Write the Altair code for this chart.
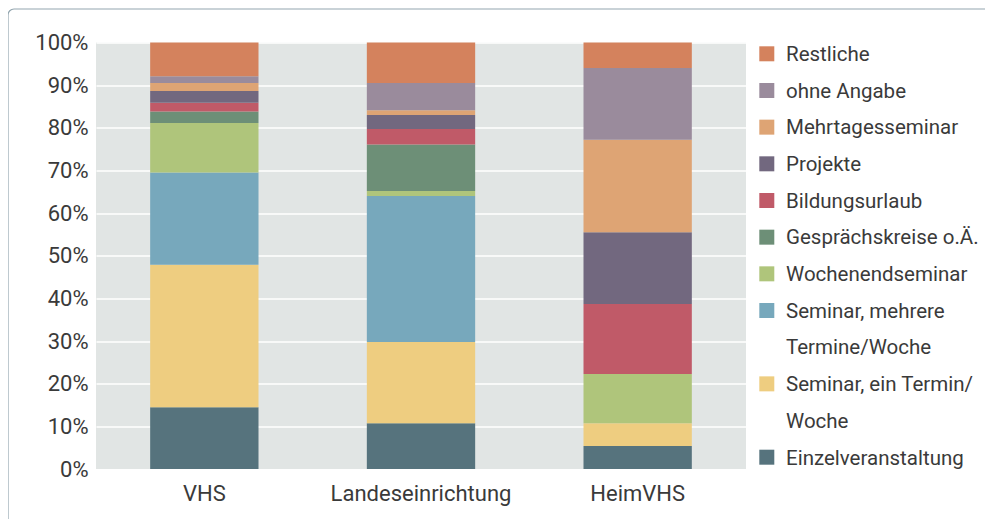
import altair as alt
import pandas as pd

# Data (percent shares), categories listed from bottom to top of each stack
institutions = ["VHS", "Landeseinrichtung", "HeimVHS"]
categories = [
    "Einzelveranstaltung",
    "Seminar, ein Termin/Woche",
    "Seminar, mehrere Termine/Woche",
    "Wochenendseminar",
    "Gesprächskreise o.Ä.",
    "Bildungsurlaub",
    "Projekte",
    "Mehrtagesseminar",
    "ohne Angabe",
    "Restliche",
]
legend_labels = [
    "Einzelveranstaltung",
    "Seminar, ein Termin/\nWoche",
    "Seminar, mehrere\nTermine/Woche",
    "Wochenendseminar",
    "Gesprächskreise o.Ä.",
    "Bildungsurlaub",
    "Projekte",
    "Mehrtagesseminar",
    "ohne Angabe",
    "Restliche",
]
colors = [
    "#56737d", "#eecd80", "#77a8bc", "#afc57b", "#6d8f77",
    "#c05a68", "#72687f", "#dea474", "#9a8b9c", "#d4825d",
]
vhs = [14.5, 33.4, 21.6, 11.6, 2.7, 2.1, 2.7, 1.9, 1.6, 7.9]
landes = [10.7, 19.1, 34.2, 1.2, 10.9, 3.6, 3.3, 1.1, 6.4, 9.5]
heim = [5.4, 5.3, 0.0, 11.6, 0.0, 16.4, 16.8, 21.7, 16.8, 6.0]

FONT = "Roboto"
TXT = "#3a3a3a"

rows = []
for inst, vals in zip(institutions, [vhs, landes, heim]):
    for i, (c, v) in enumerate(zip(categories, vals)):
        rows.append({"Einrichtung": inst, "Kategorie": c, "Anteil": v, "idx": i})
df = pd.DataFrame(rows)

# legend rows (top to bottom), one row per text line
sym_rows, txt_rows = [], []
line = 0
for c, lab in zip(categories[::-1], legend_labels[::-1]):
    sym_rows.append({"Kategorie": c, "line": line})
    for part in lab.split("\n"):
        txt_rows.append({"text": part, "line": line})
        line += 1
sym_df = pd.DataFrame(sym_rows)
txt_df = pd.DataFrame(txt_rows)

color_scale = alt.Scale(domain=categories, range=colors)
sym_y = alt.Scale(domain=[0, 11], range=[11.3, 414.7])
txt_y = alt.Scale(domain=[0, 11], range=[12.6, 416.0])

frame = alt.Chart(pd.DataFrame({"a": [0]})).mark_rect(
    fillOpacity=0, stroke="#93a6af", strokeWidth=1.2, cornerRadius=6
).encode(
    x=alt.value(-88), x2=alt.value(1400), y=alt.value(-33.5), y2=alt.value(900)
)

bars = alt.Chart(df).mark_bar(strokeWidth=0).encode(
    x=alt.X(
        "Einrichtung:N", sort=institutions,
        scale=alt.Scale(paddingInner=0.5, paddingOuter=0.25),
        axis=alt.Axis(title=None, domain=False, ticks=False, labelAngle=0,
                      labelPadding=14, labelLimit=500, grid=False),
    ),
    y=alt.Y(
        "Anteil:Q", stack="zero",
        scale=alt.Scale(domain=[0, 100], nice=False),
        axis=alt.Axis(title=None, domain=False, ticks=False, labelPadding=8,
                      values=list(range(0, 101, 10)),
                      labelExpr="datum.value + '%'",
                      grid=True, gridColor="white", gridWidth=1.6),
    ),
    color=alt.Color("Kategorie:N", scale=color_scale, legend=None),
    order=alt.Order("idx:Q"),
)

leg_sym = alt.Chart(sym_df).mark_square(size=225, opacity=1).encode(
    x=alt.value(670.8),
    y=alt.Y("line:Q", scale=sym_y, axis=None),
    color=alt.Color("Kategorie:N", scale=color_scale, legend=None),
)

leg_txt = alt.Chart(txt_df).mark_text(
    align="left", baseline="middle", font=FONT, fontSize=20.5, color=TXT
).encode(
    x=alt.value(690),
    y=alt.Y("line:Q", scale=txt_y, axis=None),
    text="text:N",
)

chart = alt.layer(frame, bars, leg_sym, leg_txt).resolve_scale(
    y="independent"
).properties(
    width=650,
    height=426.5,
    autosize=alt.AutoSizeParams(type="none"),
    padding={"left": 88, "top": 34.5, "right": 239, "bottom": 50},
).configure_view(
    stroke=None, fill="#e1e5e4"
).configure_axis(
    labelFont=FONT, labelFontSize=22, labelColor=TXT
)

chart.save("out.html", embed_options={"renderer": "svg", "actions": False})
